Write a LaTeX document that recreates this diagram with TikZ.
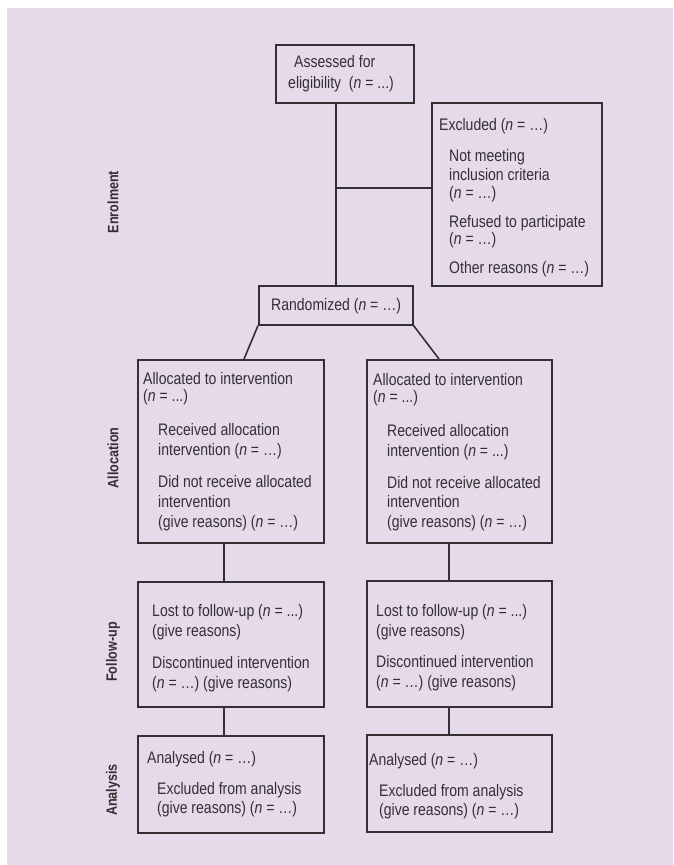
\documentclass[tikz,border=0pt]{standalone}
\usepackage{fontspec}
\setmainfont{Liberation Sans}[FakeStretch=0.84]
\begin{document}
\begin{tikzpicture}[x=1pt, y=-1pt,
  line/.style={draw=linec, line width=1.6pt},
  box/.style={line, rectangle, inner sep=0pt, anchor=north west, fill=none},
  txt/.style={anchor=base west, inner sep=0pt, text=textc, font=\fontsize{16.7}{19}\selectfont},
  stage/.style={rotate=90, inner sep=0pt, text=textc, font=\fontsize{15}{18}\selectfont\bfseries}]
\definecolor{bgc}{HTML}{E6D9EA}
\definecolor{linec}{HTML}{333033}
\definecolor{textc}{HTML}{333033}
\useasboundingbox (0,0) rectangle (673,865);
\fill[bgc] (7,8) rectangle (673,865);

% stage labels
\node[stage] (lEnrol) at (113,202) {Enrolment};
\node[stage] (lAlloc) at (113,458) {Allocation};
\node[stage] (lFollow) at (113,652) {Follow-up};
\node[stage] (lAnal) at (113,790) {Analysis};

% boxes
\node[box, minimum width=138, minimum height=58] (assess) at (275,44) {};
\node[box, minimum width=170, minimum height=183] (excl) at (431,102) {};
\node[box, minimum width=154, minimum height=39] (rand) at (258,285) {};
\node[box, minimum width=186, minimum height=183] (allocL) at (137,359) {};
\node[box, minimum width=185, minimum height=183] (allocR) at (366,359) {};
\node[box, minimum width=186, minimum height=125] (followL) at (137,581) {};
\node[box, minimum width=185, minimum height=126] (followR) at (366,580) {};
\node[box, minimum width=186, minimum height=97] (analL) at (137,735) {};
\node[box, minimum width=185, minimum height=97] (analR) at (366,734) {};

% texts: enrolment
\node[txt] (t1) at (294,67) {Assessed for};
\node[txt] (t2) at (288,88) {eligibility\ \ (\textit{n} = ...)};
\node[txt] (t3) at (439,130) {Excluded (\textit{n} = …)};
\node[txt] (t4) at (449,161) {Not meeting};
\node[txt] (t5) at (449,180) {inclusion criteria};
\node[txt] (t6) at (449,198) {(\textit{n} = …)};
\node[txt] (t7) at (449,227) {Refused to participate};
\node[txt] (t8) at (449,244) {(\textit{n} = …)};
\node[txt] (t9) at (449,273) {Other reasons (\textit{n} = …)};
\node[txt] (t10) at (271,310) {Randomized (\textit{n} = …)};

% texts: allocation
\node[txt] (a1) at (143,384) {Allocated to intervention};
\node[txt] (a2) at (143,401) {(\textit{n} = ...)};
\node[txt] (a3) at (158,435) {Received allocation};
\node[txt] (a4) at (158,455) {intervention (\textit{n} = …)};
\node[txt] (a5) at (158,487) {Did not receive allocated};
\node[txt] (a6) at (158,507) {intervention};
\node[txt] (a7) at (158,527) {(give reasons) (\textit{n} = …)};

\node[txt] (b1) at (373,385) {Allocated to intervention};
\node[txt] (b2) at (373,402) {(\textit{n} = ...)};
\node[txt] (b3) at (387,436) {Received allocation};
\node[txt] (b4) at (387,456) {intervention (\textit{n} = ...)};
\node[txt] (b5) at (387,488) {Did not receive allocated};
\node[txt] (b6) at (387,507) {intervention};
\node[txt] (b7) at (387,527) {(give reasons) (\textit{n} = …)};

% texts: follow-up
\node[txt] (f1) at (152,616) {Lost to follow-up (\textit{n} = ...)};
\node[txt] (f2) at (152,636) {(give reasons)};
\node[txt] (f3) at (152,668) {Discontinued intervention};
\node[txt] (f4) at (152,688) {(\textit{n} = …) (give reasons)};

\node[txt] (g1) at (376,616) {Lost to follow-up (\textit{n} = ...)};
\node[txt] (g2) at (376,636) {(give reasons)};
\node[txt] (g3) at (376,667) {Discontinued intervention};
\node[txt] (g4) at (376,687) {(\textit{n} = …) (give reasons)};

% texts: analysis
\node[txt] (h1) at (147,763) {Analysed (\textit{n} = …)};
\node[txt] (h2) at (157,794) {Excluded from analysis};
\node[txt] (h3) at (157,813) {(give reasons) (\textit{n} = …)};

\node[txt] (k1) at (369,765) {Analysed (\textit{n} = …)};
\node[txt] (k2) at (379,796) {Excluded from analysis};
\node[txt] (k3) at (379,815) {(give reasons) (\textit{n} = …)};

% connectors
\coordinate (branch) at (336,188);
\draw[line] (rand.north -| branch) -- (assess.south -| branch);
\draw[line] (branch) -- (branch -| excl.west);
\draw[line] (rand.south west) -- ([xshift=107pt]allocL.north west);
\draw[line] (rand.south east) -- ([xshift=73pt]allocR.north west);
\draw[line] ([xshift=87pt]allocL.south west) -- ([xshift=87pt]followL.north west);
\draw[line] ([xshift=87pt]followL.south west) -- ([xshift=87pt]analL.north west);
\draw[line] ([xshift=83pt]allocR.south west) -- ([xshift=83pt]followR.north west);
\draw[line] ([xshift=83pt]followR.south west) -- ([xshift=83pt]analR.north west);
\end{tikzpicture}
\end{document}
